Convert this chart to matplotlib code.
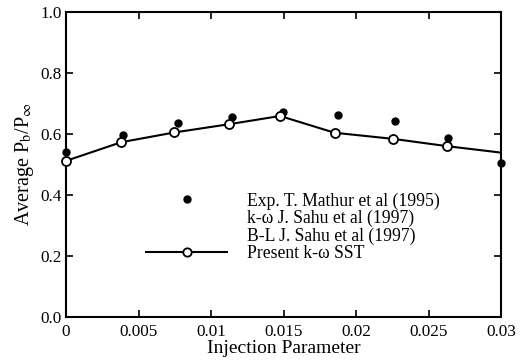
import matplotlib
matplotlib.use("Agg")
import matplotlib.pyplot as plt
from matplotlib.lines import Line2D

plt.rcParams["font.family"] = ["Liberation Serif", "DejaVu Serif"]
plt.rcParams["mathtext.fontset"] = "stix"

# Present k-omega SST computation
sst_x = [0.0, 0.0038, 0.00747, 0.01124, 0.01476, 0.01853, 0.02257, 0.0263, 0.03]
sst_y = [0.512, 0.573, 0.605, 0.632, 0.659, 0.604, 0.584, 0.560, 0.539]

# Exp. T. Mathur et al (1995)
exp_x = [0.0, 0.00395, 0.0077, 0.01147, 0.01494, 0.01874, 0.0227, 0.02632, 0.03]
exp_y = [0.542, 0.597, 0.635, 0.655, 0.673, 0.662, 0.643, 0.588, 0.504]

x_ticks = [0, 0.005, 0.01, 0.015, 0.02, 0.025, 0.03]
x_tick_labels = ["0", "0.005", "0.01", "0.015", "0.02", "0.025", "0.03"]
y_ticks = [0.0, 0.2, 0.4, 0.6, 0.8, 1.0]


def main():
    fig = plt.figure(figsize=(5.26, 3.6), dpi=100)
    ax = fig.add_axes([0.1255, 0.119, 0.827, 0.848])

    ax.plot(exp_x, exp_y, "o", color="black", markersize=5, clip_on=False, zorder=3)
    ax.plot(sst_x[:-1], sst_y[:-1], "o", mfc="white", mec="black", mew=1.3,
            markersize=6.5, clip_on=False, zorder=4)
    ax.plot(sst_x, sst_y, "-", color="black", lw=1.5, zorder=2)

    ax.set_xlim(0, 0.03)
    ax.set_ylim(0, 1.0)
    ax.set_xticks(x_ticks)
    ax.set_xticklabels(x_tick_labels)
    ax.set_yticks(y_ticks)
    ax.set_yticklabels([f"{v:.1f}" for v in y_ticks])
    ax.tick_params(direction="in", top=True, right=True, length=5, width=1.2,
                   labelsize=12.3)
    ax.tick_params(axis="x", pad=5)
    ax.tick_params(axis="y", pad=3)
    for s in ax.spines.values():
        s.set_linewidth(1.5)

    ax.set_xlabel("Injection Parameter", fontsize=14, labelpad=0)
    ax.set_ylabel(r"Average P$_\mathrm{b}$/P$_\infty$", fontsize=14.5, labelpad=3)

    handles = [
        Line2D([], [], ls="none", marker="o", color="black", markersize=5),
        Line2D([], [], ls="none"),
        Line2D([], [], ls="none"),
        Line2D([], [], ls="-", color="black", lw=1.5, marker="o", mfc="white",
               mec="black", mew=1.3, markersize=6),
    ]
    labels = ["Exp. T. Mathur et al (1995)", "k-ω J. Sahu et al (1997)",
              "B-L J. Sahu et al (1997)", "Present k-ω SST"]
    ax.legend(handles, labels, loc="upper left", bbox_to_anchor=(0.168, 0.432),
              frameon=False, fontsize=12.7, handlelength=4.6, handletextpad=1.1,
              labelspacing=0.02, borderaxespad=0)

    fig.savefig("out.png", dpi=100)
    plt.close(fig)


if __name__ == "__main__":
    main()
